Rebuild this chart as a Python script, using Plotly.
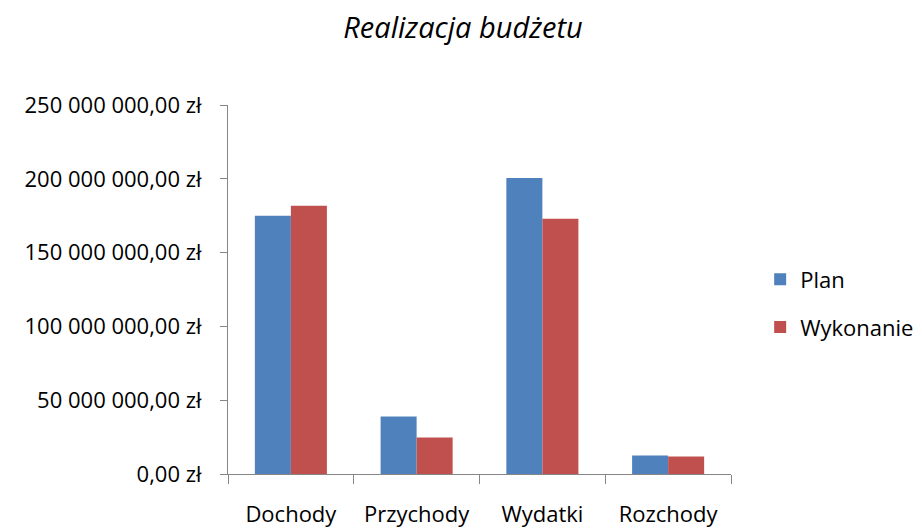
import plotly.graph_objects as go

categories = ["Dochody", "Przychody", "Wydatki", "Rozchody"]
plan = [174.9e6, 38.9e6, 200.6e6, 12.5e6]
wykonanie = [181.7e6, 24.7e6, 172.9e6, 11.8e6]
tick_vals = [0, 50e6, 100e6, 150e6, 200e6, 250e6]
tick_text = ["0,00 zł", "50 000 000,00 zł", "100 000 000,00 zł",
             "150 000 000,00 zł", "200 000 000,00 zł", "250 000 000,00 zł"]

FONT = "Open Sans"
W, H = 914, 521  # page body has an 8px margin

fig = go.Figure()
fig.add_trace(go.Bar(x=categories, y=plan, name="Plan", marker_color="#4F81BD",
                     marker_line_width=0, legendgroup="a"))
fig.add_trace(go.Bar(x=categories, y=wykonanie, name="Wykonanie", marker_color="#C0504D",
                     marker_line_width=0, legendgroup="b"))

fig.update_layout(
    template="none",
    width=W, height=H,
    paper_bgcolor="white", plot_bgcolor="white",
    margin=dict(l=220, r=191, t=97, b=55, autoexpand=False),
    barmode="group", bargap=0.427, bargroupgap=0,
    font=dict(family=FONT, size=22, color="#000000"),
    title=dict(text="<i>Realizacja budżetu</i>", x=455 / W, xanchor="center",
               y=1 - 20 / H, yanchor="middle",
               font=dict(family=FONT, size=29, color="#000000")),
    legend=dict(x=1.058, xanchor="left", y=0.462, yanchor="middle",
                font=dict(family=FONT, size=22), tracegroupgap=16,
                itemwidth=30, bgcolor="rgba(0,0,0,0)"),
    showlegend=True,
)
fig.update_xaxes(showgrid=False, showline=True, linecolor="#868686", linewidth=1,
                 ticks="outside", tickson="boundaries", ticklen=9, tickcolor="#868686",
                 ticklabelstandoff=21, tickfont=dict(family=FONT, size=22),
                 automargin=False)
fig.update_yaxes(range=[0, 250e6], tickvals=tick_vals, ticktext=tick_text,
                 showgrid=False, showline=True, linecolor="#868686", linewidth=1,
                 ticks="outside", ticklen=7, tickcolor="#868686",
                 ticklabelstandoff=14, tickfont=dict(family=FONT, size=22),
                 zeroline=False, automargin=False)

fig.write_html("out.html")
